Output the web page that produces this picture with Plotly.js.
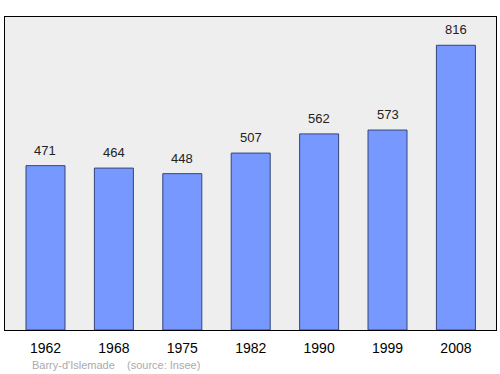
<!DOCTYPE html>
<html><head><meta charset="utf-8">
<script src="https://cdn.plot.ly/plotly-3.0.1.min.js"></script>
<style>html,body{margin:0;padding:0;background:#fff}</style>
</head><body><div id="chart" style="width:500px;height:374px"></div>
<script>
var years = ["1962","1968","1975","1982","1990","1999","2008"];
var population = [471,464,448,507,562,573,816];
var source = "Barry-d'Islemade    (source: Insee)";

var xs = years.map(function(_, i){ return i; });
var trace = {
  type: 'bar', x: xs, y: population, width: 0.57,
  marker: {color: '#7799ff', line: {color: '#33447a', width: 1}},
  hoverinfo: 'none'
};
var annotations = population.map(function(v, i){
  return {x: i, y: v, xref: 'x', yref: 'y', text: String(v), showarrow: false,
    yanchor: 'bottom', yshift: 6, font: {family: 'Liberation Sans, Arial, sans-serif', size: 13, color: '#222'}};
});
annotations.push({xref: 'paper', yref: 'paper', x: 0.051, y: -0.112, xanchor: 'left', yanchor: 'middle',
  text: source.replace(/ {2,}/g, function(s){ return s.replace(/ /g, '&nbsp;'); }), showarrow: false,
  font: {family: 'Liberation Sans, Arial, sans-serif', size: 11, color: '#aaaaaa'}});
var layout = {
  width: 500, height: 374,
  margin: {l: 5, r: 4, t: 17, b: 44},
  paper_bgcolor: '#ffffff', plot_bgcolor: '#eeeeee',
  showlegend: false,
  xaxis: {range: [-0.592, 6.586], tickvals: xs, ticktext: years, ticks: '', showgrid: false, zeroline: false,
    showline: true, mirror: true, linecolor: '#000', linewidth: 1.2, ticklabelstandoff: 5,
    tickfont: {family: 'Liberation Sans, Arial, sans-serif', size: 14, color: '#000'}},
  yaxis: {range: [0, 897], showticklabels: false, ticks: '', showgrid: false, zeroline: false,
    showline: true, mirror: true, linecolor: '#000', linewidth: 1.2},
  annotations: annotations
};
Plotly.newPlot('chart', [trace], layout, {staticPlot: true, displayModeBar: false});
</script></body></html>
